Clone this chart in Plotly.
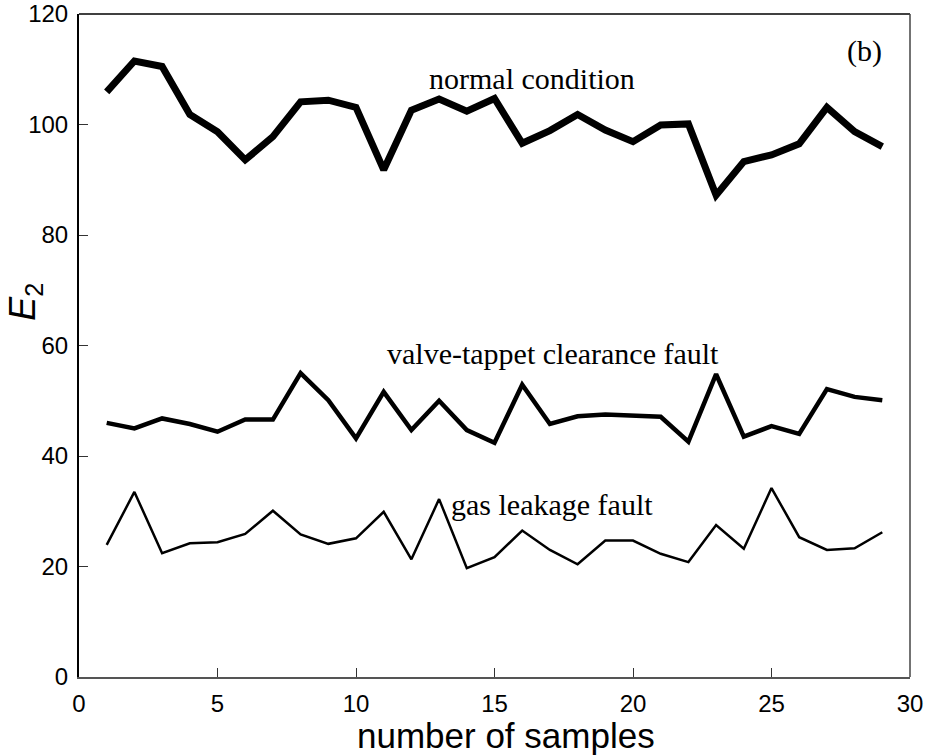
import plotly.graph_objects as go

samples = list(range(1, 30))
normal_condition = [105.9, 111.5, 110.5, 101.8, 98.7, 93.6, 97.8, 104.1, 104.4, 103.1,
                    91.8, 102.6, 104.6, 102.4, 104.7, 96.6, 98.9, 101.8, 99.0, 96.9,
                    99.9, 100.1, 87.2, 93.3, 94.5, 96.5, 103.1, 98.7, 96.0]
valve_tappet = [46.0, 45.0, 46.8, 45.8, 44.4, 46.6, 46.6, 55.0, 50.1, 43.2,
                51.6, 44.7, 50.0, 44.7, 42.4, 52.9, 45.8, 47.2, 47.5, 47.4,
                47.1, 42.6, 54.8, 43.5, 45.4, 44.0, 52.1, 50.7, 50.1]
gas_leakage = [23.9, 33.5, 22.4, 24.2, 24.4, 25.9, 30.1, 25.8, 24.1, 25.1,
               29.9, 21.3, 32.2, 19.7, 21.7, 26.5, 23.0, 20.4, 24.7, 24.7,
               22.3, 20.8, 27.5, 23.2, 34.2, 25.3, 23.0, 23.3, 26.2]
x_ticks = [0, 5, 10, 15, 20, 25, 30]
y_ticks = [0, 20, 40, 60, 80, 100, 120]

fig = go.Figure()
fig.add_trace(go.Scatter(x=samples, y=normal_condition, mode="lines",
                         line=dict(color="black", width=7), showlegend=False))
fig.add_trace(go.Scatter(x=samples, y=valve_tappet, mode="lines",
                         line=dict(color="black", width=4.5), showlegend=False))
fig.add_trace(go.Scatter(x=samples, y=gas_leakage, mode="lines",
                         line=dict(color="black", width=2.5), showlegend=False))

serif = dict(family="Liberation Serif, Times New Roman, serif", size=30, color="black")
fig.add_annotation(x=16.35, y=108.4, text="normal condition", showarrow=False,
                   xanchor="center", yanchor="middle", font=serif)
fig.add_annotation(x=17.1, y=58.5, text="valve-tappet clearance fault", showarrow=False,
                   xanchor="center", yanchor="middle", font=serif)
fig.add_annotation(x=17.08, y=31.3, text="gas leakage fault", showarrow=False,
                   xanchor="center", yanchor="middle", font=serif)
fig.add_annotation(x=28.36, y=113.3, text="(b)", showarrow=False,
                   xanchor="center", yanchor="middle", font=serif)

sans = "Liberation Sans, Arial, sans-serif"
fig.add_annotation(xref="paper", yref="paper", x=0.514, y=-0.088,
                   text="number of samples", showarrow=False,
                   xanchor="center", yanchor="middle",
                   font=dict(family=sans, size=35, color="black"))
fig.add_annotation(xref="paper", yref="paper", x=-0.065, y=0.566,
                   text="<i>E</i><sub>2</sub>", showarrow=False, textangle=-90,
                   xanchor="center", yanchor="middle",
                   font=dict(family=sans, size=36, color="black"))

# top and right box lines (thin)
fig.add_shape(type="line", xref="paper", yref="paper", x0=0, x1=1, y0=1, y1=1,
              line=dict(color="black", width=1.5))
fig.add_shape(type="line", xref="paper", yref="paper", x0=1, x1=1, y0=0, y1=1,
              line=dict(color="#444444", width=1.5))

fig.update_xaxes(range=[0, 30], tickvals=x_ticks, ticks="inside", ticklen=9,
                 tickcolor="#333333", tickwidth=1.2, showline=True, linecolor="#555555",
                 linewidth=2, showgrid=False, zeroline=False, ticklabelstandoff=4,
                 automargin=False,
                 tickfont=dict(family=sans, size=24, color="black"))
fig.update_yaxes(range=[0, 120], tickvals=y_ticks, ticks="inside", ticklen=9,
                 tickcolor="#333333", tickwidth=1.2, showline=True, linecolor="black",
                 linewidth=2, showgrid=False, zeroline=False, ticklabelstandoff=4,
                 automargin=False,
                 tickfont=dict(family=sans, size=24, color="black"))

fig.update_layout(width=935, height=756, margin=dict(l=79, r=25, t=14, b=79, autoexpand=False),
                  plot_bgcolor="white", paper_bgcolor="white")

fig.write_html("out.html")
